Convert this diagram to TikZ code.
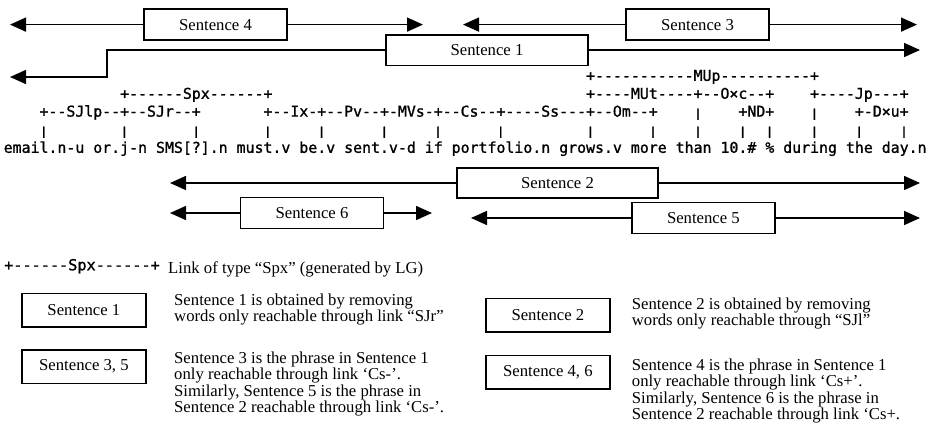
\documentclass[tikz,border=0pt]{standalone}
\usepackage{fontspec}
\usetikzlibrary{arrows.meta}
\setmainfont{Liberation Serif}
\newfontfamily\lgmono{DejaVu Sans Mono}[Ligatures=TeXOff,FakeBold=1.2]
\newcommand\serifsz{\fontsize{16.7}{16}\selectfont}
\newcommand\monosz{\lgmono\fontsize{14.88}{16}\selectfont}
\newcommand\legmonosz{\lgmono\fontsize{15.2}{16}\selectfont}
\newcommand\vb{\scalebox{1}[0.75]{|}}
\def\cw{8.96}
\def\xo{3.5}
\begin{document}
\begin{tikzpicture}[x=1pt,y=-1pt,
  sbox/.style={draw, line width=1.6pt, fill=white, inner sep=0pt, font=\serifsz, minimum height=31pt},
  arr/.style={line width=1.6pt, -{Triangle[length=16pt,width=14pt]}},
  lrow/.style={anchor=mid west, inner sep=0pt, font=\monosz},
  bar/.style={anchor=center, inner sep=0pt, font=\monosz},
  note/.style={anchor=base west, inner sep=0pt, font=\serifsz}]
\useasboundingbox[fill=white] (0,0) rectangle (935,432);

% ---- phrase ranges above the parse ----
\node[sbox, minimum width=143pt] (s4) at (215.5,24.6) {Sentence 4};
\coordinate (s4l) at (10,24.6);
\coordinate (s4r) at (423,24.6);
\draw[arr] (s4.west) -- (s4l);
\draw[arr] (s4.east) -- (s4r);

\node[sbox, minimum width=143pt] (s3) at (697.5,24.6) {Sentence 3};
\coordinate (s3l) at (463,24.6);
\coordinate (s3r) at (917,24.6);
\draw[arr] (s3.west) -- (s3l);
\draw[arr] (s3.east) -- (s3r);

\node[sbox, minimum width=202pt, minimum height=30.6pt] (s1) at (487,50) {Sentence 1};
\coordinate (s1k) at (107,50);
\coordinate (s1l) at (10,77);
\coordinate (s1r) at (920,50);
\draw[arr] (s1.west) -- (s1k) |- (s1l);
\draw[arr] (s1.east) -- (s1r);

% ---- link grammar parse ----
% row A
\node[lrow] (mup) at ({\xo+65*\cw},78.5) {+-----------MUp----------+};
% row B
\node[lrow] (spx) at ({\xo+13*\cw},96.5) {+------Spx------+};
\node[lrow] (mut) at ({\xo+65*\cw},96.5) {+----MUt----+--O×c--+};
\node[lrow] (jp)  at ({\xo+90*\cw},96.5) {+----Jp---+};
% row C
\node[lrow] (sjl) at ({\xo+4*\cw},114.3) {+--SJlp--+--SJr--+};
\node[lrow] (ix)  at ({\xo+29*\cw},114.3) {+--Ix-+--Pv--+-MVs-+--Cs--+----Ss---+--Om--+};
\node[bar]  (q77) at ({\xo+77.5*\cw},114.3) {\vb};
\node[lrow] (nd)  at ({\xo+82*\cw},114.3) {+ND+};
\node[bar]  (q90) at ({\xo+90.5*\cw},114.3) {\vb};
\node[lrow] (dxu) at ({\xo+95*\cw},114.3) {+-D×u+};
% row D
\foreach \c in {4,13,21,29,35,42,48,55,65,72,77,82,85,90,95,100}
  \node[bar] (p\c) at ({\xo+(\c+0.5)*\cw},132.3) {\vb};
% words
\node[lrow] (w1)  at ({\xo+0*\cw},150.5)  {email.n-u};
\node[lrow] (w2)  at ({\xo+10*\cw},150.5) {or.j-n};
\node[lrow] (w3)  at ({\xo+17*\cw},150.5) {SMS[?].n};
\node[lrow] (w4)  at ({\xo+26*\cw},150.5) {must.v};
\node[lrow] (w5)  at ({\xo+33*\cw},150.5) {be.v};
\node[lrow] (w6)  at ({\xo+38*\cw},150.5) {sent.v-d};
\node[lrow] (w7)  at ({\xo+47*\cw},150.5) {if};
\node[lrow] (w8)  at ({\xo+50*\cw},150.5) {portfolio.n};
\node[lrow] (w9)  at ({\xo+62*\cw},150.5) {grows.v};
\node[lrow] (w10) at ({\xo+70*\cw},150.5) {more};
\node[lrow] (w11) at ({\xo+75*\cw},150.5) {than};
\node[lrow] (w12) at ({\xo+80*\cw},150.5) {10.\#};
\node[lrow] (w13) at ({\xo+85*\cw},150.5) {\%};
\node[lrow] (w14) at ({\xo+87*\cw},150.5) {during};
\node[lrow] (w15) at ({\xo+94*\cw},150.5) {the};
\node[lrow] (w16) at ({\xo+98*\cw},150.5) {day.n};

% ---- phrase ranges below the parse ----
\node[sbox, minimum width=201pt, minimum height=30pt] (s2) at (557.5,183) {Sentence 2};
\coordinate (s2l) at (170,183);
\coordinate (s2r) at (920,183);
\draw[arr] (s2.west) -- (s2l);
\draw[arr] (s2.east) -- (s2r);

\node[sbox, minimum width=143pt] (s6) at (312,213) {Sentence 6};
\coordinate (s6l) at (170,213);
\coordinate (s6r) at (432,213);
\draw[arr] (s6.west) -- (s6l);
\draw[arr] (s6.east) -- (s6r);

\node[sbox, minimum width=143pt] (s5) at (703.4,218) {Sentence 5};
\coordinate (s5l) at (471,218);
\coordinate (s5r) at (920,218);
\draw[arr] (s5.west) -- (s5l);
\draw[arr] (s5.east) -- (s5r);

% ---- legend ----
\node[lrow, font=\legmonosz] (lspx) at (4,268) {+------Spx------+};
\node[note] (ltxt) at (168,273.5) {Link of type “Spx” (generated by LG)};

\node[sbox, minimum width=124.3pt, minimum height=33.4pt] (lb1) at (83.9,310) {Sentence 1};
\node[note] (t1a) at (174,305) {Sentence 1 is obtained by removing};
\node[note] (t1b) at (174,321.5) {words only reachable through link “SJr”};

\node[sbox, minimum width=124.3pt, minimum height=33.4pt] (lb35) at (83.9,366.7) {Sentence 3, 5};
\node[note] (t3a) at (174,363) {Sentence 3 is the phrase in Sentence 1};
\node[note] (t3b) at (174,379.5) {only reachable through link ‘Cs-’.};
\node[note] (t3c) at (174,396) {Similarly, Sentence 5 is the phrase in};
\node[note] (t3d) at (174,412.5) {Sentence 2 reachable through link ‘Cs-’.};

\node[sbox, minimum width=124.3pt, minimum height=33.4pt] (lb2) at (547.9,315) {Sentence 2};
\node[note] (t2a) at (631.7,309) {Sentence 2 is obtained by removing};
\node[note] (t2b) at (631.7,325.5) {words only reachable through “SJl”};

\node[sbox, minimum width=124.3pt, minimum height=33.4pt] (lb46) at (547.9,372) {Sentence 4, 6};
\node[note] (t4a) at (631.7,370) {Sentence 4 is the phrase in Sentence 1};
\node[note] (t4b) at (631.7,386.5) {only reachable through link ‘Cs+’.};
\node[note] (t4c) at (631.7,403) {Similarly, Sentence 6 is the phrase in};
\node[note] (t4d) at (631.7,419.5) {Sentence 2 reachable through link ‘Cs+.};
\end{tikzpicture}
\end{document}
